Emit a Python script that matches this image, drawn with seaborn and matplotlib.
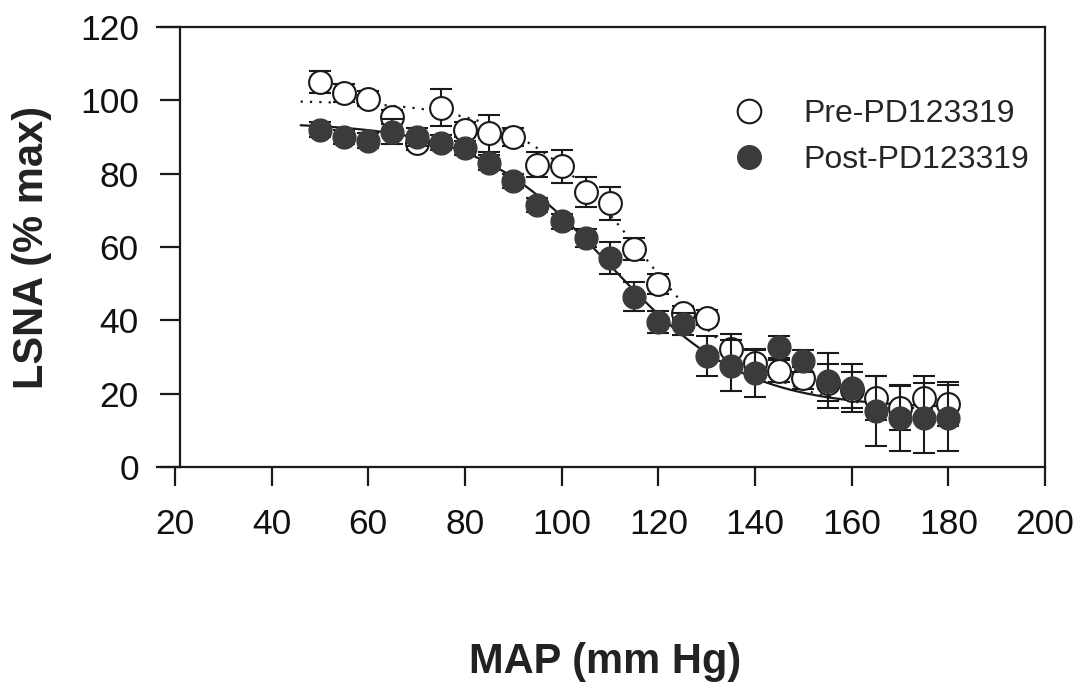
import numpy as np
import pandas as pd
import matplotlib
matplotlib.use("Agg")
import matplotlib.pyplot as plt
from matplotlib.lines import Line2D
import seaborn as sns

# Mean arterial pressure steps (mm Hg)
map_mmhg = [50, 55, 60, 65, 70, 75, 80, 85, 90, 95, 100, 105, 110, 115,
            120, 125, 130, 135, 140, 145, 150, 155, 160, 165, 170, 175, 180]

# LSNA (% max), mean and SEM, before PD123319
pre_mean = [105, 102, 100.5, 95.5, 88.5, 98, 92, 91, 90, 82.5, 82, 75, 72, 59.5,
            50, 42, 40.7, 32.2, 28.4, 26.2, 24.3, 23, 21, 18.9, 16, 18.9, 17.2]
pre_sem = [3, 2.5, 2, 2, 2, 5, 2, 5, 2.5, 3.5, 4.5, 4, 4.5, 3,
           2.7, 2, 2, 4, 3.5, 3, 3, 5, 5, 6, 6, 6, 6]

# LSNA (% max), mean and SEM, after PD123319
post_mean = [92, 90, 89, 91.5, 90, 88.5, 87, 83, 78, 71.5, 67, 62.5, 57, 46.5,
             39.5, 39, 30.3, 27.6, 25.7, 32.8, 29, 23.5, 21.6, 15.3, 13.4, 13.4, 13.4]
post_sem = [2, 2, 2, 3.5, 2.5, 2, 2, 2, 2, 2, 2, 2.5, 4.3, 4,
            3, 3, 5.5, 7, 6.5, 3, 3, 7.5, 6.5, 9.6, 9, 9.5, 9]

# Boltzmann sigmoid fits: (top, bottom, midpoint, slope)
pre_fit = (100.0, 15.0, 117.0, 12.9)
post_fit = (94.0, 16.0, 110.0, 14.0)
fit_range = (46.0, 180.0)

x_ticks = [20, 40, 60, 80, 100, 120, 140, 160, 180, 200]
y_ticks = [0, 20, 40, 60, 80, 100, 120]

labels = ["Pre-PD123319", "Post-PD123319"]
x_label = "MAP (mm Hg)"
y_label = "LSNA (% max)"


def boltzmann(x, top, bottom, mid, slope):
    return bottom + (top - bottom) / (1.0 + np.exp((x - mid) / slope))


sns.set_theme(style="white")
plt.rcParams["font.family"] = ["Liberation Sans", "DejaVu Sans"]

dark = "#3b3b3b"
ink = "#1a1a1a"

df = pd.DataFrame({
    "MAP": map_mmhg * 2,
    "LSNA": pre_mean + post_mean,
    "SEM": pre_sem + post_sem,
    "group": [labels[0]] * len(map_mmhg) + [labels[1]] * len(map_mmhg),
})

xs = np.linspace(fit_range[0], fit_range[1], 300)
fits = pd.DataFrame({
    "MAP": np.concatenate([xs, xs]),
    "LSNA": np.concatenate([boltzmann(xs, *pre_fit), boltzmann(xs, *post_fit)]),
    "group": [labels[0]] * len(xs) + [labels[1]] * len(xs),
})

fig = plt.figure(figsize=(10.83, 6.89), dpi=100)
ax = fig.add_axes([0.145, 0.3222, 0.820, 0.6386])

# Fitted curves
pre_line = fits[fits.group == labels[0]]
post_line = fits[fits.group == labels[1]]
sns.lineplot(data=pre_line, x="MAP", y="LSNA", ax=ax, color=ink, lw=1.6,
             linestyle=(0, (1, 3.2)), zorder=2, legend=False)
sns.lineplot(data=post_line, x="MAP", y="LSNA", ax=ax, color=ink, lw=1.6,
             zorder=2, legend=False)

pre = df[df.group == labels[0]]
post = df[df.group == labels[1]]

# Error bars (SEM)
ax.errorbar(pre.MAP, pre.LSNA, yerr=pre.SEM, fmt="none", ecolor=ink,
            elinewidth=1.5, capsize=8, capthick=1.5, zorder=3)
sns.scatterplot(data=pre, x="MAP", y="LSNA", ax=ax, marker="o", s=270,
                facecolor="white", edgecolor=ink, linewidth=1.5, zorder=4,
                legend=False)
ax.errorbar(post.MAP, post.LSNA, yerr=post.SEM, fmt="none", ecolor=ink,
            elinewidth=1.5, capsize=8, capthick=1.5, zorder=5)
sns.scatterplot(data=post, x="MAP", y="LSNA", ax=ax, marker="o", s=270,
                color=dark, edgecolor=dark, linewidth=1.0, zorder=6,
                legend=False)

# Axes frame and ticks
ax.set_xlim(16.3, 200)
ax.set_ylim(0, 120)
ax.spines["left"].set_position(("data", 21))
for side in ["left", "right", "top", "bottom"]:
    ax.spines[side].set_visible(True)
    ax.spines[side].set_color(ink)
    ax.spines[side].set_linewidth(1.6)
ax.set_xticks(x_ticks)
ax.set_yticks(y_ticks)
ax.set_xticklabels([str(t) for t in x_ticks])
ax.set_yticklabels([str(t) for t in y_ticks])
ax.tick_params(axis="x", direction="out", length=13.5, width=1.6, color=ink,
               pad=16, labelsize=25.5, labelcolor="#111111", bottom=True)
ax.tick_params(axis="y", direction="out", length=14.5, width=1.6, color=ink,
               pad=15, labelsize=25.5, labelcolor="#111111", left=True)
ax.grid(False)

ax.set_xlabel(x_label, fontsize=30, fontweight="bold", color="#222222")
ax.set_ylabel(y_label, fontsize=30, fontweight="bold", color="#222222")
ax.xaxis.label.set_va("center")
ax.yaxis.label.set_va("center")
ax.xaxis.set_label_coords(0.5045, -0.443)
ax.yaxis.set_label_coords(-0.141, 0.50)

# Legend
handles = [
    Line2D([], [], marker="o", linestyle="none", markersize=17,
           markerfacecolor="white", markeredgecolor=ink, markeredgewidth=1.5),
    Line2D([], [], marker="o", linestyle="none", markersize=17,
           markerfacecolor=dark, markeredgecolor=dark),
]
ax.legend(handles, labels, loc="upper left", bbox_to_anchor=(0.634, 0.866),
          frameon=False, fontsize=23, handletextpad=1.22, labelspacing=0.5,
          handlelength=1.0, borderaxespad=0)

fig.savefig("out.png", dpi=100, facecolor="white")
